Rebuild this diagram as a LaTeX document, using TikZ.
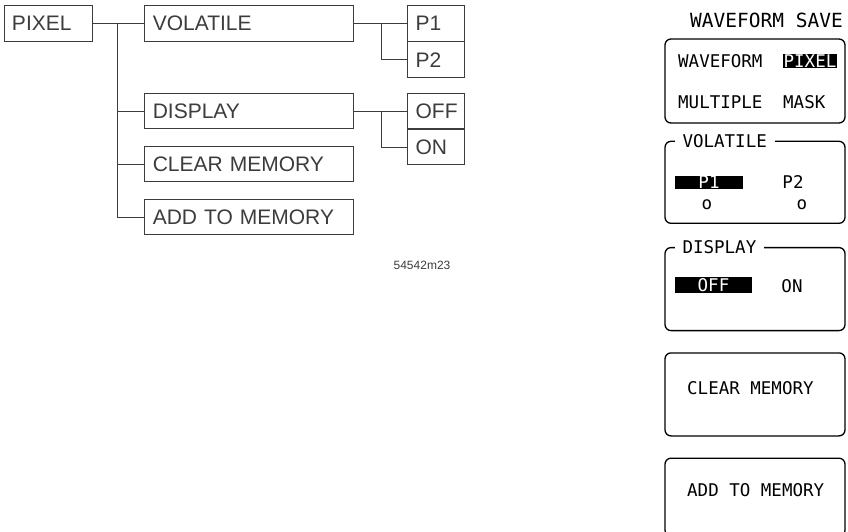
\documentclass[tikz,border=0pt]{standalone}
\usepackage{fontspec}
\setmainfont{Liberation Sans}
\newfontfamily\scrfont{DejaVu Sans Mono}
\usetikzlibrary{positioning}
\definecolor{plotink}{HTML}{3C3C3C}
\tikzset{
	tbox/.style={draw=plotink, line width=0.8pt, minimum height=36pt,
		inner xsep=8pt, inner ysep=0pt, text width=#1, align=left,
		font=\fontsize{21}{21}\selectfont, text=plotink},
	tline/.style={draw=plotink, line width=0.8pt},
	pbox/.style={draw, line width=1.3pt, rounded corners=6pt,
		minimum width=180pt, minimum height=#1, inner sep=0pt},
	ptext/.style={font=\scrfont\fontsize{17.5}{17.5}\selectfont, inner sep=0pt},
	ptitle/.style={ptext, fill=white, inner xsep=8pt, inner ysep=2pt},
	hilite/.style={ptext, fill=black, text=white}
}

\begin{document}
\begin{tikzpicture}[x=1pt, y=-1pt, node distance=17pt and 52pt]
	\useasboundingbox (0,0) rectangle (848,532);
	% menu tree
	\node[tbox=72pt] (pixel) at (48,23) {PIXEL};
	\node[tbox=193pt, right=of pixel] (volatile) {VOLATILE};
	\node[tbox=41pt, right=53pt of volatile] (p1) {P1};
	\node[tbox=41pt, below=0pt of p1] (p2) {P2};
	\node[tbox=193pt, below=52pt of volatile, minimum height=35pt] (display) {DISPLAY};
	\node[tbox=41pt, right=53pt of display, minimum height=35pt] (off) {OFF};
	\node[tbox=41pt, below=0pt of off, minimum height=35pt] (on) {ON};
	\node[tbox=193pt, below=of display, minimum height=35pt] (clear) {CLEAR MEMORY};
	\node[tbox=193pt, below=of clear, minimum height=35pt] (add) {ADD TO MEMORY};
	\coordinate[right=25pt of pixel.east] (trunk);
	\coordinate[right=27pt of volatile.east] (vfork);
	\coordinate[right=27pt of display.east] (dfork);
	\draw[tline] (pixel) -- (volatile);
	\draw[tline] (trunk) |- (display);
	\draw[tline] (trunk) |- (clear);
	\draw[tline] (trunk) |- (add);
	\draw[tline] (volatile) -- (p1);
	\draw[tline] (vfork) |- (p2);
	\draw[tline] (display) -- (off);
	\draw[tline] (dfork) |- (on);
	\node[font=\fontsize{12}{12}\selectfont, text=plotink] (figid) at (422,265) {54542m23};
	% softkey panel
	\node[ptext, anchor=west, font=\scrfont\fontsize{19.5}{19.5}\selectfont] (wstitle) at (690,20) {WAVEFORM SAVE};
	\node[pbox=84pt] (wsave) at (755,81) {};
	\node[pbox=82pt, below=of wsave] (volbox) {};
	\node[pbox=83pt, below=23pt of volbox] (dispbox) {};
	\node[pbox=83pt, below=21pt of dispbox] (clearbox) {};
	\node[pbox=78pt, below=21pt of clearbox] (addbox) {};
	\node[ptext, anchor=west] (wform) at (678,61) {WAVEFORM};
	\node[hilite, minimum width=54pt, minimum height=14pt] (pixsel) at (810,61) {PIXEL};
	\node[ptext, anchor=west] (multi) at (678,102) {MULTIPLE};
	\node[ptext, anchor=west] (mask) at (783,102) {MASK};
	\node[ptitle, anchor=west] (voltitle) at ([xshift=10pt]volbox.north west) {VOLATILE};
	\node[hilite, minimum width=68pt, minimum height=12pt] (p1sel) at (709,182.5) {P1};
	\node[ptext] (p2key) at (793,182) {P2};
	\node[ptext] (p1dot) at (707,205) {o};
	\node[ptext] (p2dot) at (802,205) {o};
	\node[ptitle, anchor=west] (disptitle) at ([xshift=10pt]dispbox.north west) {DISPLAY};
	\node[hilite, minimum width=77pt, minimum height=16pt] (offsel) at (713.5,285) {OFF};
	\node[ptext] (onkey) at (792,286) {ON};
	\node[ptext, anchor=west] (clrkey) at (687,388) {CLEAR MEMORY};
	\node[ptext, anchor=west] (addkey) at (687,490) {ADD TO MEMORY};
\end{tikzpicture}
\end{document}
